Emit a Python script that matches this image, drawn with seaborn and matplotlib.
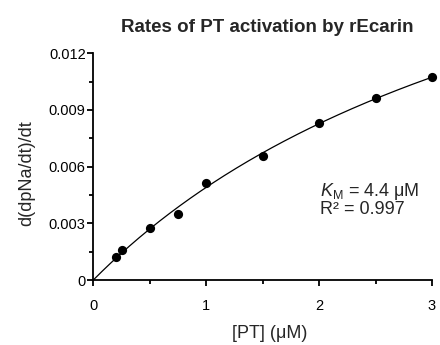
import numpy as np
import pandas as pd
import matplotlib
matplotlib.use("Agg")
import matplotlib.pyplot as plt
import seaborn as sns
from matplotlib.ticker import MultipleLocator

# Data
pt_conc = [0.2, 0.25, 0.5, 0.75, 1.0, 1.5, 2.0, 2.5, 3.0]
rates = [0.00123, 0.00157, 0.00277, 0.00348, 0.00515, 0.00656, 0.00833, 0.00965, 0.01073]
km = 4.4
x_ticks = [0, 1, 2, 3]
x_tick_labels = ["0", "1", "2", "3"]
y_ticks = [0, 0.003, 0.006, 0.009, 0.012]
y_tick_labels = ["0", "0.003", "0.006", "0.009", "0.012"]

sns.set_style("ticks")
plt.rcParams['font.family'] = ['Liberation Sans', 'DejaVu Sans']
plt.rcParams['mathtext.fontset'] = 'custom'
plt.rcParams['mathtext.rm'] = 'Liberation Sans'
plt.rcParams['mathtext.it'] = 'Liberation Sans:italic'

df = pd.DataFrame({"PT": pt_conc, "rate": rates})

# Michaelis-Menten fit with fixed Km (least squares for Vmax)
xa = np.array(pt_conc)
ya = np.array(rates)
f = xa / (km + xa)
vmax = float((ya * f).sum() / (f * f).sum())
xfit = np.linspace(0, 3, 200)
fit_df = pd.DataFrame({"PT": xfit, "rate": vmax * xfit / (km + xfit)})

fig = plt.figure(figsize=(4.4, 3.45), dpi=100)
ax = fig.add_axes([93.3 / 440, 1 - 280 / 345, (432 - 93.3) / 440, (280 - 53.3) / 345])

sns.lineplot(data=fit_df, x="PT", y="rate", ax=ax, color="black", linewidth=0.9)
sns.scatterplot(data=df, x="PT", y="rate", ax=ax, color="black", s=44,
                edgecolor="black", linewidth=0, zorder=3, clip_on=False)

ax.set_xlim(0, 3)
ax.set_ylim(0, 0.012)
ax.set_xticks(x_ticks)
ax.set_xticklabels(x_tick_labels)
ax.set_yticks(y_ticks)
ax.set_yticklabels(y_tick_labels)
ax.xaxis.set_minor_locator(MultipleLocator(0.5))
ax.yaxis.set_minor_locator(MultipleLocator(0.0015))
ax.tick_params(which="major", length=4.5, width=1.3, labelsize=10.5, color="black", labelcolor="black")
ax.tick_params(which="minor", length=3, width=1.3, color="black")
ax.tick_params(axis="x", which="major", pad=9)
ax.tick_params(axis="y", which="major", pad=1)
for s in ["left", "bottom"]:
    ax.spines[s].set_linewidth(1.3)
    ax.spines[s].set_color("black")
sns.despine(ax=ax)

ax.set_xlabel("[PT] (μM)", fontsize=13)
ax.xaxis.set_label_coords(0.52, -0.2)
ax.set_ylabel("d(dpNa/dt)/dt", fontsize=13)
ax.yaxis.set_label_coords(-0.17, 0.47)
ax.set_title("Rates of PT activation by rEcarin", fontsize=13.5, fontweight="bold",
             pad=15, x=0.515)

ax.text(2.01, 0.00525, r"$K_{\mathrm{M}}$ = 4.4 μM" + "\n" + "R² = 0.997", fontsize=13,
        va="top", ha="left", linespacing=0.95)

fig.savefig("out.png", dpi=100)
